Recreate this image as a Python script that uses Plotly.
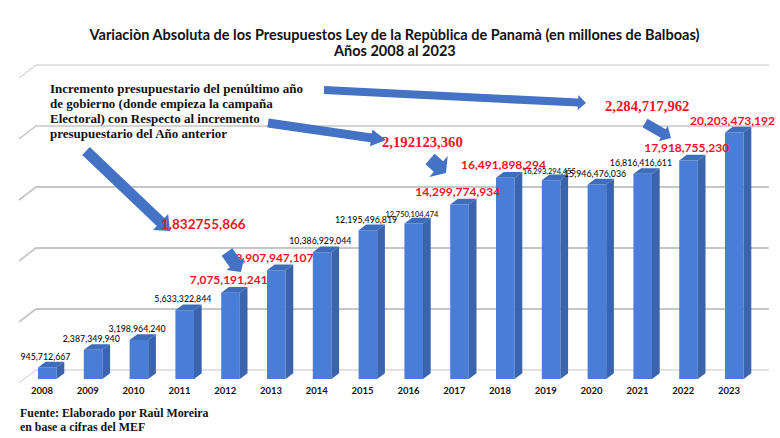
import plotly.graph_objects as go

# ---- data ----
years = list(range(2008, 2024))
budget = [945712667, 2387349940, 3198964240, 5633322844, 7075191241, 8907947107,
          10386929044, 12195496819, 12750104474, 14299774934, 16491898294,
          16293294455, 15946476036, 16816416611, 17918755230, 20203473192]
grid_values = [0, 5e9, 10e9, 15e9, 20e9, 25e9]
highlighted = [2012, 2013, 2017, 2018, 2022, 2023]
small_labels = [2016, 2019]
title_line1 = "Variaciòn Absoluta de los Presupuestos Ley de la Repùblica de Panamà (en millones de Balboas)"
title_line2 = "Años 2008 al 2023"
note_lines = ["Incremento presupuestario del penúltimo año",
              "de gobierno (donde empieza la campaña",
              "Electoral) con Respecto al incremento",
              "presupuestario del Año anterior"]
source_lines = ["Fuente: Elaborado por Raùl Moreira", "en base a cifras del MEF"]
diff_2013 = "1,832755,866"
diff_2017 = "2,192123,360"
diff_2022 = "2,284,717,962"

# ---- geometry / style (page pixels; the page body margin is removed below) ----
W, H, MB = 780, 438, 55
PH = H - MB
PX_PER_YEAR = 45.8
TICK0_PX = 42.0
VAL_PER_PX = 5e9 / 61
ZERO_PX = 379.0
BLUE, SIDE, TOP, ARROW = "#4A7DD7", "#3A64AB", "#3E6DBB", "#4472C4"
GRID = "#C6C6C6"
RED = "#F0142A"
grid_widths = [1, 1.8, 1.8, 1.8, 1.5, 1]

def xv(px):
    return years[0] + (px - TICK0_PX) / PX_PER_YEAR

def yv(dpx):
    return dpx * VAL_PER_PX

bar_off = (38 - TICK0_PX) / PX_PER_YEAR
bar_w = 18.6 / PX_PER_YEAR
dx = 7.7 / PX_PER_YEAR
dy = yv(5.7)

fig = go.Figure()

# gridlines below every trace: back wall plus slanted floor stub on the left
grid_shapes = [
    dict(type="path", xref="x", yref="y", layer="below",
         path=f"M {xv(19)} {g + yv(-4)} L {xv(36)} {g + yv(9)} L {xv(769)} {g + yv(9)}",
         line=dict(color=GRID, width=gw))
    for g, gw in zip(grid_values, grid_widths)
]

# side and top faces computed from the values
sx, sy, tx, ty = [], [], [], []
for yr, v in zip(years, budget):
    xl = yr + bar_off
    xr = xl + bar_w
    sx += [xr, xr + dx, xr + dx, xr, xr, None]
    sy += [0, dy, v + dy, v, 0, None]
    tx += [xl, xl + dx, xr + dx, xr, xl, None]
    ty += [v, v + dy, v + dy, v, v, None]
fig.add_trace(go.Scatter(x=sx, y=sy, mode="lines", fill="toself", fillcolor=SIDE,
                         line=dict(width=0, color=SIDE), hoverinfo="skip", showlegend=False))
fig.add_trace(go.Scatter(x=tx, y=ty, mode="lines", fill="toself", fillcolor=TOP,
                         line=dict(width=0, color=TOP), hoverinfo="skip", showlegend=False))
fig.add_trace(go.Bar(x=years, y=budget, width=bar_w, offset=bar_off,
                     marker=dict(color=BLUE, line=dict(width=0)), showlegend=False))

# value labels (a trace, so the arrows can cover them as in the picture)
label_dy = [9.5, 10, 10, 10, 11.7, 11.4, 10, 9, 8.5, 11.6, 12, 8.3, 9.5, 10, 11.5, 10.6]
label_dx = 3.5
fig.add_trace(go.Scatter(
    x=[y + label_dx / PX_PER_YEAR for y in years],
    y=[v + yv(d) for v, d in zip(budget, label_dy)],
    mode="text", text=[f"{v:,}" for v in budget], textposition="middle center",
    textfont=dict(
        family="Lato",
        size=[12 if y in highlighted else 7.5 if y in small_labels else 8.8 for y in years],
        color=[RED if y in highlighted else "#111111" for y in years],
        weight=[700 if y in highlighted else 500 for y in years]),
    hoverinfo="skip", showlegend=False, cliponaxis=False))

# arrows: tail (x,y), tip (x,y), shaft width, head width, head length, in page pixels
arrows = [
    ((324, 90), (586, 103), 8, 15, 8),
    ((268, 123), (386, 140), 9, 17, 15),
    ((86, 151), (170, 231), 11, 22, 13),
    ((227, 252), (241, 272), 13, 22, 10),
    ((430, 159), (446, 173), 14, 28, 10),
    ((645, 123), (671, 138), 10, 18, 9),
]

def paper_x(px):
    return px / W

def paper_y(py):
    return 1 - py / PH

def arrow_path(tail, tip, sw, hw, hl):
    ax, ay = tail
    bx, by = tip
    L = ((bx - ax) ** 2 + (by - ay) ** 2) ** 0.5
    ux, uy = (bx - ax) / L, (by - ay) / L
    nx, ny = -uy, ux
    nkx, nky = bx - ux * hl, by - uy * hl
    pts = [(ax + nx * sw / 2, ay + ny * sw / 2), (nkx + nx * sw / 2, nky + ny * sw / 2),
           (nkx + nx * hw / 2, nky + ny * hw / 2), (bx, by),
           (nkx - nx * hw / 2, nky - ny * hw / 2), (nkx - nx * sw / 2, nky - ny * sw / 2),
           (ax - nx * sw / 2, ay - ny * sw / 2)]
    return "M " + " L ".join(f"{paper_x(p[0]):.5f} {paper_y(p[1]):.5f}" for p in pts) + " Z"

arrow_shapes = [dict(type="path", xref="paper", yref="paper", path=arrow_path(*a),
                     fillcolor=ARROW, line=dict(width=0), layer="above") for a in arrows]

def page_note(text, px, py, family, size, color, weight=700, xanchor="left"):
    return dict(text=text, x=paper_x(px), y=paper_y(py), xref="paper", yref="paper",
                xanchor=xanchor, yanchor="middle", showarrow=False,
                font=dict(family=family, size=size, color=color, weight=weight))

annotations = [page_note(t, 48, 88 + 15 * i, "Liberation Serif", 13, "#111111")
               for i, t in enumerate(note_lines)]
annotations += [page_note(t, 18, 413 + 14 * i, "Liberation Serif", 11.9, "#111111")
                for i, t in enumerate(source_lines)]
annotations += [
    page_note(title_line2, 394.5, 50.5, "Lato", 14.5, "#111111", xanchor="center"),
    page_note(diff_2013, 203, 224, "Lato", 13.5, RED, xanchor="center"),
    page_note(diff_2017, 423, 142, "Liberation Serif", 14.7, RED, xanchor="center"),
    page_note(diff_2022, 647, 106, "Liberation Serif", 14.7, RED, xanchor="center"),
]

fig.update_layout(
    width=W, height=H,
    margin=dict(l=0, r=0, t=0, b=MB, pad=0),
    paper_bgcolor="white", plot_bgcolor="white",
    showlegend=False,
    barmode="overlay",
    title=dict(text=title_line1, x=394.5 / W, xanchor="center",
               y=1 - 35 / H, yanchor="middle",
               font=dict(family="Lato", size=14.5, color="#111111", weight=700)),
    xaxis=dict(range=[xv(0), xv(W)], tickmode="array", tickvals=years,
               ticktext=[str(y) for y in years], ticks="", showgrid=False, zeroline=False,
               showline=False, tickfont=dict(family="Lato", size=9.5, color="#111111", weight=700)),
    yaxis=dict(range=[yv(ZERO_PX - PH), yv(ZERO_PX)], visible=False,
               showgrid=False, zeroline=False),
    shapes=grid_shapes + arrow_shapes, annotations=annotations,
)

fig.write_html("out.html", config={"displayModeBar": False},
               post_script="document.body.style.margin='0';")
